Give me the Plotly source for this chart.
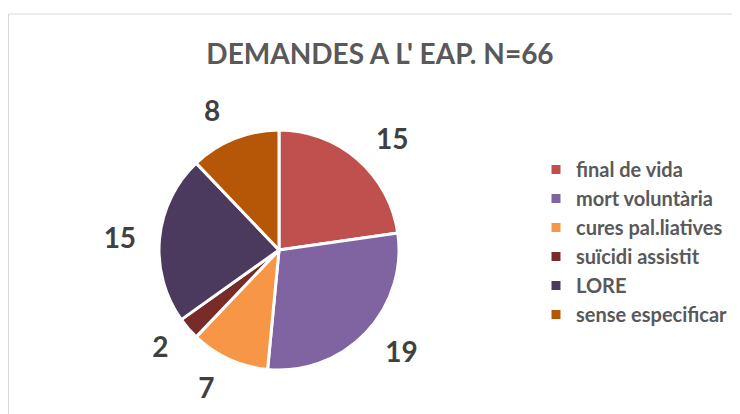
import plotly.graph_objects as go

categories = ["final de vida", "mort voluntària", "cures pal.liatives",
              "suïcidi assistit", "LORE", "sense especificar"]
values = [15, 19, 7, 2, 15, 8]
colors = ["#C0504D", "#8064A2", "#F79646", "#772C2A", "#4B3A5E", "#B65708"]
title_text = "DEMANDES A L' EAP. N=66"

OFF = 8                       # page body margin
W, H = 740 - OFF, 414 - OFF   # figure size so page does not overflow
FONT = "Lato, 'Open Sans', sans-serif"
CX, CY, R, RL = 279 - OFF, 250 - OFF, 120, 135   # pie centre / radius, label ring


def dom(cx, cy, r):
    return dict(x=[(cx - r) / W, (cx + r) / W], y=[(H - cy - r) / H, (H - cy + r) / H])


fig = go.Figure()
fig.add_trace(go.Pie(
    labels=categories, values=values, sort=False, direction="clockwise",
    rotation=0,
    marker=dict(colors=colors, line=dict(color="white", width=3)),
    textinfo="none",
    domain=dom(CX, CY, R),
    hoverinfo="label+value",
))
fig.add_trace(go.Pie(
    labels=categories, values=values, sort=False, direction="clockwise",
    rotation=0,
    marker=dict(colors=["rgba(0,0,0,0)"] * len(values), line=dict(width=0)),
    textinfo="value", textposition="outside",
    textfont=dict(size=28, color="#404040", family=FONT, weight="bold"),
    domain=dom(CX, CY, RL),
    showlegend=False, hoverinfo="skip",
))

fig.update_layout(
    width=W, height=H,
    margin=dict(l=0, r=0, t=0, b=0),
    paper_bgcolor="white",
    title=dict(text=title_text, x=(380 - OFF) / W, xanchor="center",
               y=1 - (54 - OFF) / H, yanchor="middle",
               font=dict(size=28, color="#595959", family=FONT, weight="bold")),
    legend=dict(x=(536 - OFF) / W, y=1 - (242 - OFF) / H, xanchor="left", yanchor="middle",
                font=dict(size=20, color="#595959", family=FONT, weight="bold"),
                bgcolor="rgba(0,0,0,0)"),
    shapes=[dict(type="rect", xref="paper", yref="paper",
                 x0=0.5 / W, x1=1.05,
                 y0=-0.05, y1=1 - (14 - OFF) / H,
                 line=dict(color="#D9D9D9", width=1), fillcolor="rgba(0,0,0,0)", layer="below")],
)

fig.write_html("out.html")
